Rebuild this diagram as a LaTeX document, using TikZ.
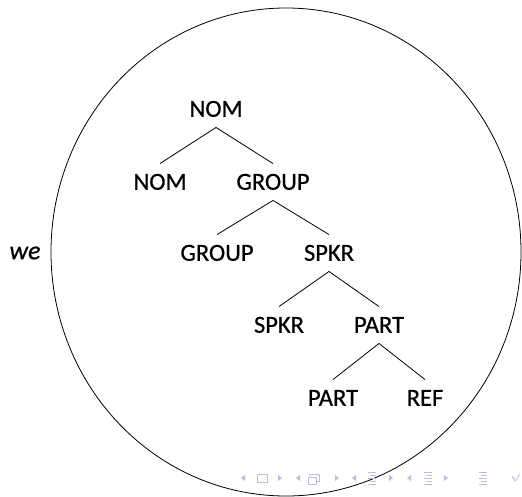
\documentclass[tikz,border=0pt]{standalone}
\usepackage{fontspec}
\setmainfont{Carlito}[FakeBold=0.6]
\begin{document}
\begin{tikzpicture}[x=1pt,y=-1pt,
  lab/.style={inner xsep=2pt, inner ysep=10.5pt, text height=15.5pt, text depth=0pt,
              font=\fontsize{24.5}{28}\selectfont},
  branch/.style={line width=0.8pt},
  navc/.style={fill=navcol, draw=none},
  navl/.style={draw=navcol, line width=0.9pt}]
\definecolor{navcol}{RGB}{188,188,228}
\useasboundingbox (0,0) rectangle (522,496);
\fill[white] (0,0) rectangle (522,496);
% big circle
\draw[line width=0.8pt] (286,252) ellipse [x radius=235, y radius=244];
% tree
\node[lab] (n0) at (216,109) {NOM};
\node[lab] (n1) at (160,182) {NOM};
\node[lab] (g0) at (273,182) {GROUP};
\node[lab] (g1) at (217,253) {GROUP};
\node[lab] (s0) at (329,253) {SPKR};
\node[lab] (s1) at (279,325) {SPKR};
\node[lab] (p0) at (379,325) {PART};
\node[lab] (p1) at (333,398) {PART};
\node[lab] (r0) at (425,398) {REF};
\draw[branch] (n1.north) -- (n0.south) -- (g0.north);
\draw[branch] (g1.north) -- (g0.south) -- (s0.north);
\draw[branch] (s1.north) -- (s0.south) -- (p0.north);
\draw[branch] (p1.north) -- (p0.south) -- (r0.north);
\node[font=\fontsize{26}{30}\selectfont\itshape] (we) at (25,253) {we};
% navigation symbols
\foreach \x in {243,298,354,409} \fill[navc] (\x+2,475) -- (\x-2,478) -- (\x+2,481) -- cycle;
\foreach \x in {280,337,391,446} \fill[navc] (\x-2,475) -- (\x+2,478) -- (\x-2,481) -- cycle;
\draw[navl] (257,474) rectangle (267,482);
\draw[navl] (308,477) rectangle (316,484);
\draw[navl] (311,474.5) -- (319,474.5) -- (319,481) -- (316,481);
\draw[navl] (309.5,476) -- (310,474.5) -- (311,474.5);
\foreach \x in {372,428,483} {
  \draw[navl] (\x-4,472.5) -- (\x+4,472.5);
  \draw[navl] (\x-2,475.5) -- (\x+4,475.5);
  \draw[navl] (\x-4,478.5) -- (\x+4,478.5);
  \draw[navl] (\x-2,481.5) -- (\x+4,481.5);
  \draw[navl] (\x-4,484.5) -- (\x+4,484.5);
}
\draw[navl, line width=0.7pt] (513,478) -- (515.5,481) -- (520,474);
\draw[navl, line width=0.7pt] (512,476) -- (513,478) -- (515,478);
\end{tikzpicture}
\end{document}
